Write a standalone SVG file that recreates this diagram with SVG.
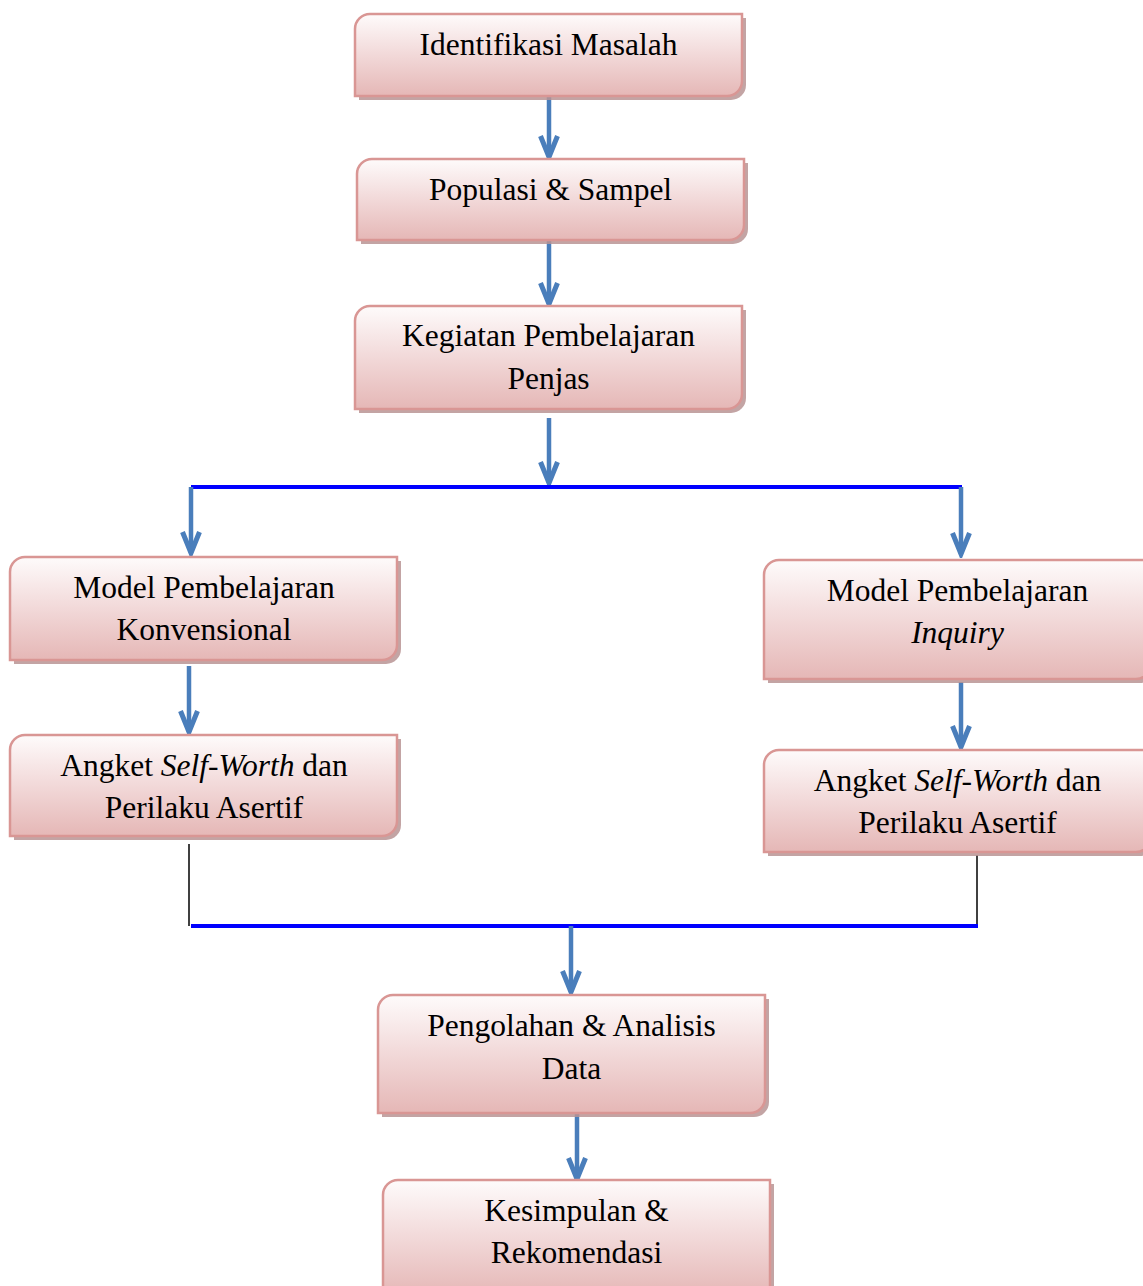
<svg xmlns="http://www.w3.org/2000/svg" width="1143" height="1286" viewBox="0 0 1143 1286">
<style>
.box{fill:url(#g);stroke:#d99694;stroke-width:2.5}
.sh{fill:#b99494;opacity:0.85}
.t{font-family:"Liberation Serif","Times New Roman",serif;font-size:31.5px;fill:#000;text-anchor:middle}
.ar{stroke:#4a7ebb;stroke-width:4.5;fill:none;marker-end:url(#ah)}
.bl{stroke:#0000ff;stroke-width:4;fill:none}
.k{stroke:#000;stroke-width:1.5;fill:none}
</style>
<defs>
<linearGradient id="g" x1="0" y1="0" x2="0" y2="1">
<stop offset="0" stop-color="#fefbfb"/>
<stop offset="0.45" stop-color="#f3dcdc"/>
<stop offset="1" stop-color="#e5b7b6"/>
</linearGradient>
<marker id="ah" viewBox="-24 -12 28 24" refX="0" refY="0" markerWidth="28" markerHeight="24" orient="auto" markerUnits="userSpaceOnUse">
<path d="M-21,-8.5 L0,0 L-21,8.5" fill="none" stroke="#4a7ebb" stroke-width="5" stroke-linejoin="miter"/>
</marker>
</defs>

<g id="connectors">
<line class="ar" x1="549" y1="93" x2="549" y2="157"/>
<line class="ar" x1="549" y1="240" x2="549" y2="304"/>
<line class="ar" x1="549" y1="418" x2="549" y2="483"/>
<line class="bl" x1="191" y1="487" x2="962" y2="487"/>
<line class="ar" x1="191" y1="487" x2="191" y2="553"/>
<line class="ar" x1="961" y1="487" x2="961" y2="554"/>
<line class="ar" x1="189" y1="666" x2="189" y2="732"/>
<line class="ar" x1="961" y1="682" x2="961" y2="747"/>
<line class="k" x1="189" y1="844" x2="189" y2="926"/>
<line class="k" x1="977" y1="855" x2="977" y2="926"/>
<line class="bl" x1="191" y1="926" x2="978" y2="926"/>
<line class="ar" x1="571" y1="926" x2="571" y2="992"/>
<line class="ar" x1="577" y1="1114" x2="577" y2="1179"/>
</g>

<g id="n1">
<path class="sh" d="M374,18 H746 V85 A15 15 0 0 1 731,100 H359 V33 A15 15 0 0 1 374,18 Z"/>
<path class="box" d="M370,14 H742 V81 A15 15 0 0 1 727,96 H355 V29 A15 15 0 0 1 370,14 Z"/>
<text class="t" x="548.5" y="55">Identifikasi Masalah</text>
</g>
<g id="n2">
<path class="sh" d="M376,163 H748 V229 A15 15 0 0 1 733,244 H361 V178 A15 15 0 0 1 376,163 Z"/>
<path class="box" d="M372,159 H744 V225 A15 15 0 0 1 729,240 H357 V174 A15 15 0 0 1 372,159 Z"/>
<text class="t" x="550.5" y="200">Populasi &amp; Sampel</text>
</g>
<g id="n3">
<path class="sh" d="M374,310 H746 V398 A15 15 0 0 1 731,413 H359 V325 A15 15 0 0 1 374,310 Z"/>
<path class="box" d="M370,306 H742 V394 A15 15 0 0 1 727,409 H355 V321 A15 15 0 0 1 370,306 Z"/>
<text class="t" x="548.5" y="346">Kegiatan Pembelajaran</text>
<text class="t" x="548.5" y="389">Penjas</text>
</g>
<g id="n4">
<path class="sh" d="M29,561 H401 V649 A15 15 0 0 1 386,664 H14 V576 A15 15 0 0 1 29,561 Z"/>
<path class="box" d="M25,557 H397 V645 A15 15 0 0 1 382,660 H10 V572 A15 15 0 0 1 25,557 Z"/>
<text class="t" x="204" y="598">Model Pembelajaran</text>
<text class="t" x="204" y="640">Konvensional</text>
</g>
<g id="n5">
<path class="sh" d="M783,564 H1155 V668 A15 15 0 0 1 1140,683 H768 V579 A15 15 0 0 1 783,564 Z"/>
<path class="box" d="M779,560 H1151 V664 A15 15 0 0 1 1136,679 H764 V575 A15 15 0 0 1 779,560 Z"/>
<text class="t" x="957.5" y="601">Model Pembelajaran</text>
<text class="t" x="957.5" y="643" font-style="italic">Inquiry</text>
</g>
<g id="n6">
<path class="sh" d="M29,739 H401 V825 A15 15 0 0 1 386,840 H14 V754 A15 15 0 0 1 29,739 Z"/>
<path class="box" d="M25,735 H397 V821 A15 15 0 0 1 382,836 H10 V750 A15 15 0 0 1 25,735 Z"/>
<text class="t" x="204" y="776">Angket <tspan font-style="italic">Self-Worth</tspan> dan</text>
<text class="t" x="204" y="818">Perilaku Asertif</text>
</g>
<g id="n7">
<path class="sh" d="M783,754 H1155 V841 A15 15 0 0 1 1140,856 H768 V769 A15 15 0 0 1 783,754 Z"/>
<path class="box" d="M779,750 H1151 V837 A15 15 0 0 1 1136,852 H764 V765 A15 15 0 0 1 779,750 Z"/>
<text class="t" x="957.5" y="791">Angket <tspan font-style="italic">Self-Worth</tspan> dan</text>
<text class="t" x="957.5" y="833">Perilaku Asertif</text>
</g>
<g id="n8">
<path class="sh" d="M397,999 H769 V1102 A15 15 0 0 1 754,1117 H382 V1014 A15 15 0 0 1 397,999 Z"/>
<path class="box" d="M393,995 H765 V1098 A15 15 0 0 1 750,1113 H378 V1010 A15 15 0 0 1 393,995 Z"/>
<text class="t" x="571.5" y="1036">Pengolahan &amp; Analisis</text>
<text class="t" x="571.5" y="1079">Data</text>
</g>
<g id="n9">
<path class="sh" d="M402,1184 H774 V1290 H387 V1199 A15 15 0 0 1 402,1184 Z"/>
<path class="box" d="M398,1180 H770 V1296 H383 V1195 A15 15 0 0 1 398,1180 Z"/>
<text class="t" x="576.5" y="1221">Kesimpulan &amp;</text>
<text class="t" x="576.5" y="1263">Rekomendasi</text>
</g>
</svg>
